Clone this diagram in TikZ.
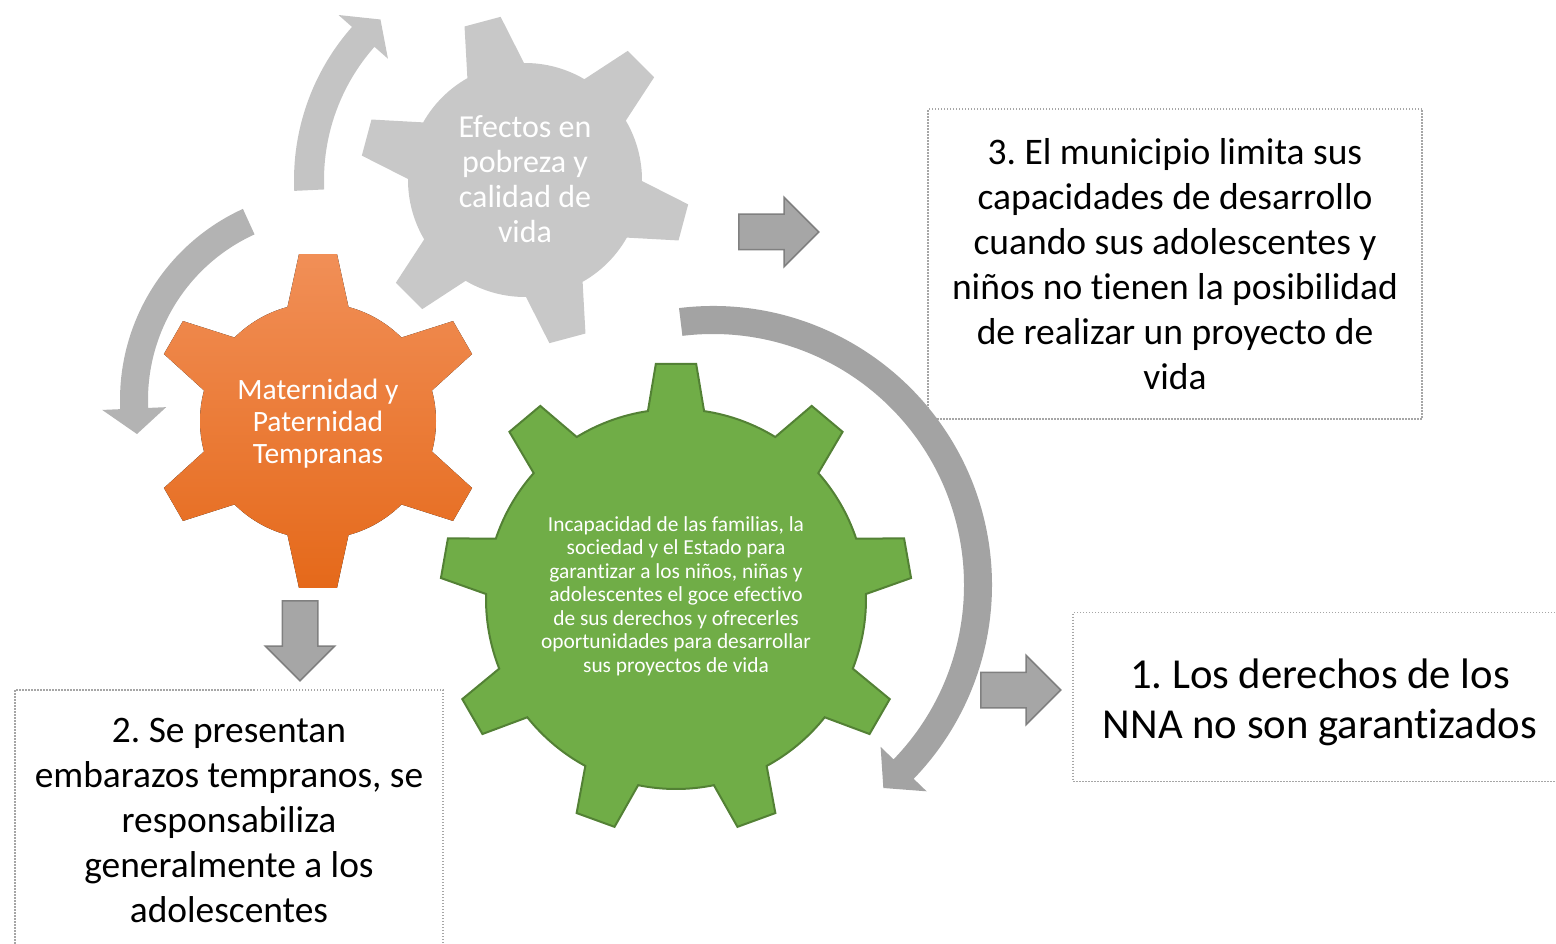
\documentclass[tikz,border=0pt]{standalone}
\usepackage{fontspec}
\setmainfont[Ligatures={NoCommon}]{Carlito}
\usetikzlibrary{shapes.arrows,positioning}
\frenchspacing

\definecolor{grisrueda}{HTML}{C8C8C8}
\definecolor{grisarcoa}{HTML}{C4C4C4}
\definecolor{grisarcob}{HTML}{B3B3B3}
\definecolor{grisarcoc}{HTML}{A3A3A3}
\definecolor{grisflecha}{HTML}{A6A6A6}
\definecolor{grisborde}{HTML}{808080}
\definecolor{grispunto}{HTML}{A6A6A6}
\definecolor{naranjaclaro}{HTML}{F18F57}
\definecolor{naranjaoscuro}{HTML}{E5691A}
\definecolor{verderueda}{HTML}{70AD47}
\definecolor{verdeborde}{HTML}{538135}

% gear outline: teeth, first tooth angle, body radius, tip radius, base half angle, tip half angle
\newcommand{\gearshape}[6]{%
  ({#2-#5}:#3)
  \foreach \k in {1,...,#1}{
    -- ({#2+(\k-1)*360/#1-#6}:#4) -- ({#2+(\k-1)*360/#1+#6}:#4)
    -- ({#2+(\k-1)*360/#1+#5}:#3)
    arc[start angle={#2+(\k-1)*360/#1+#5}, delta angle={360/#1-2*#5}, radius=#3]
  } -- cycle}

% curved arrow: radius, half width, tail angle, head base angle, tip angle, head half width
\newcommand{\circarrow}[6]{%
  ({#3}:{#1+#2}) arc[start angle=#3, end angle=#4, radius={#1+#2}]
  -- ({#4}:{#1+#6}) -- ({#5}:{#1}) -- ({#4}:{#1-#6}) -- ({#4}:{#1-#2})
  arc[start angle=#4, end angle=#3, radius={#1-#2}] -- cycle}

\begin{document}
\begin{tikzpicture}[x=1pt,y=-1pt]
				\tikzstyle{caja}=[draw=grispunto, line width=1.5pt, dash pattern=on 1.5pt off 1.5pt, align=center, inner sep=0pt]
				\tikzstyle{flecha}=[single arrow, draw=grisborde, fill=grisflecha, line width=1.5pt, inner xsep=0pt, inner ysep=17pt, single arrow head extend=17pt, minimum width=68pt, minimum height=80pt, anchor=tail]
				\tikzstyle{textorueda}=[text=white, align=center]

				\useasboundingbox (0,0) rectangle (1556,944);

				%% Dotted boxes
				\node [caja, minimum width=494pt, minimum height=310pt, font=\fontsize{37.5}{45}\selectfont] (caja3) at (1175,264)
				    {3. El municipio limita sus\\capacidades de desarrollo\\cuando sus adolescentes y\\ni\~nos no tienen la posibilidad\\de realizar un proyecto de\\vida};
				\node [caja, minimum width=428pt, minimum height=260pt, font=\fontsize{37.4}{45}\selectfont] (caja2) at (229,820)
				    {2. Se presentan\\embarazos tempranos, se\\responsabiliza\\generalmente a los\\adolescentes};
				\node [caja, minimum width=494pt, minimum height=169pt, font=\fontsize{42.7}{50}\selectfont] (caja1) at (1320,697)
				    {};
				\node [align=center, font=\fontsize{42.7}{50}\selectfont] (texto1) at (1320,702)
				    {1. Los derechos de los\\NNA no son garantizados};

				%% Curved arrows
				\begin{scope}[shift={(525,180)},yscale=-1]
				    \fill [grisarcoa] \circarrow{216}{15}{182.7}{138.5}{132}{33};
				\end{scope}
				\begin{scope}[shift={(330,400)},yscale=-1]
				    \fill [grisarcob] \circarrow{196}{14}{114.5}{182.5}{190}{32};
				\end{scope}
				\begin{scope}[shift={(713,585)},yscale=-1]
				    \fill [grisarcoc] \circarrow{265}{14}{97}{-44}{-50}{32};
				\end{scope}

				%% Gears
				\begin{scope}[shift={(525,180)},yscale=-1]
				    \fill [grisrueda] \gearshape{6}{105}{117}{165}{14.5}{6.5};
				\end{scope}
				\begin{scope}[shift={(318,421)},yscale=-1]
				    \fill [top color=naranjaclaro, bottom color=naranjaoscuro] \gearshape{6}{90}{118}{168}{15}{6.5};
				\end{scope}
				\begin{scope}[shift={(676,599)},yscale=-1]
				    \filldraw [fill=verderueda, draw=verdeborde, line width=2pt] \gearshape{9}{90}{190}{236}{8.5}{4.9};
				\end{scope}

				\node [textorueda, font=\fontsize{32}{35}\selectfont] (gris) at (525,179)
				    {Efectos en\\pobreza y\\calidad de\\vida};
				\node [textorueda, font=\fontsize{29.5}{32}\selectfont] (naranja) at (318,424)
				    {Maternidad y\\Paternidad\\Tempranas};
				\node [textorueda, font=\fontsize{21.4}{23.5}\selectfont] (verde) at (676,596)
				    {Incapacidad de las familias, la\\sociedad y el Estado para\\garantizar a los ni\~nos, ni\~nas y\\adolescentes el goce efectivo\\de sus derechos y ofrecerles\\oportunidades para desarrollar\\sus proyectos de vida};

				%% Block arrows
				\node [flecha] (flecha3) at (738,232) {};
				\node [flecha, shape border rotate=270, inner xsep=17pt, inner ysep=0pt] (flecha2) at (300,600) {};
				\node [flecha] (flecha1) at (980,690) {};
\end{tikzpicture}
\end{document}
